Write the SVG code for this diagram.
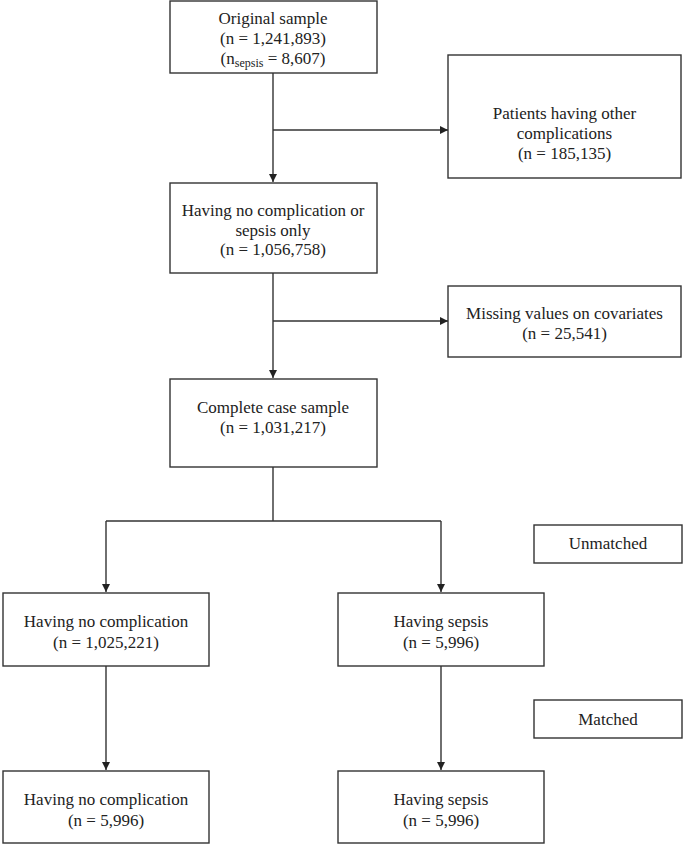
<svg xmlns="http://www.w3.org/2000/svg" width="685" height="849" viewBox="0 0 685 849">
<defs>
<marker id="ah" viewBox="0 0 10 10" refX="10" refY="5" markerWidth="8" markerHeight="8" markerUnits="userSpaceOnUse" orient="auto"><path d="M0,0 L10,5 L0,10 Z" fill="#222"/></marker>
<style>
.box{fill:#fff;stroke:#333;stroke-width:1.4}
.t{font-family:"Liberation Serif","Times New Roman",serif;font-size:17px;fill:#222;text-anchor:middle}
.c{fill:none;stroke:#333;stroke-width:1.4}
</style>
</defs>
<rect width="685" height="849" fill="#fff"/>
<g id="connectors">
<line class="c" x1="273" y1="73" x2="273" y2="182" marker-end="url(#ah)"/>
<line class="c" x1="273" y1="130" x2="448" y2="130" marker-end="url(#ah)"/>
<line class="c" x1="273" y1="273" x2="273" y2="378" marker-end="url(#ah)"/>
<line class="c" x1="273" y1="321" x2="448" y2="321" marker-end="url(#ah)"/>
<polyline class="c" points="273,467 273,521"/>
<polyline class="c" points="106,521 441,521"/>
<line class="c" x1="106" y1="521" x2="106" y2="592" marker-end="url(#ah)"/>
<line class="c" x1="441" y1="521" x2="441" y2="592" marker-end="url(#ah)"/>
<line class="c" x1="106" y1="666" x2="106" y2="770" marker-end="url(#ah)"/>
<line class="c" x1="441" y1="666" x2="441" y2="770" marker-end="url(#ah)"/>
</g>
<g id="n1">
<rect class="box" x="170" y="1" width="207" height="72"/>
<text class="t" x="273" y="24">Original sample</text>
<text class="t" x="273" y="44">(n = 1,241,893)</text>
<text class="t" x="273" y="64">(n<tspan font-size="12" dy="3">sepsis</tspan><tspan dy="-3"> = 8,607)</tspan></text>
</g>
<g id="n2">
<rect class="box" x="448" y="55" width="233" height="123"/>
<text class="t" x="564.5" y="119">Patients having other</text>
<text class="t" x="564.5" y="139">complications</text>
<text class="t" x="564.5" y="159">(n = 185,135)</text>
</g>
<g id="n3">
<rect class="box" x="170" y="183" width="207" height="90"/>
<text class="t" x="273" y="216">Having no complication or</text>
<text class="t" x="273" y="236">sepsis only</text>
<text class="t" x="273" y="255">(n = 1,056,758)</text>
</g>
<g id="n4">
<rect class="box" x="448" y="286" width="233" height="71"/>
<text class="t" x="564.5" y="319">Missing values on covariates</text>
<text class="t" x="564.5" y="339">(n = 25,541)</text>
</g>
<g id="n5">
<rect class="box" x="170" y="379" width="207" height="88"/>
<text class="t" x="273" y="413">Complete case sample</text>
<text class="t" x="273" y="433">(n = 1,031,217)</text>
</g>
<g id="n6">
<rect class="box" x="534" y="525" width="148" height="38"/>
<text class="t" x="608" y="549">Unmatched</text>
</g>
<g id="n7">
<rect class="box" x="3" y="593" width="206" height="73"/>
<text class="t" x="106" y="627">Having no complication</text>
<text class="t" x="106" y="648">(n = 1,025,221)</text>
</g>
<g id="n8">
<rect class="box" x="338" y="593" width="206" height="73"/>
<text class="t" x="441" y="627">Having sepsis</text>
<text class="t" x="441" y="648">(n = 5,996)</text>
</g>
<g id="n9">
<rect class="box" x="534" y="700" width="148" height="38"/>
<text class="t" x="608" y="725">Matched</text>
</g>
<g id="n10">
<rect class="box" x="3" y="771" width="206" height="72"/>
<text class="t" x="106" y="805">Having no complication</text>
<text class="t" x="106" y="826">(n = 5,996)</text>
</g>
<g id="n11">
<rect class="box" x="338" y="771" width="206" height="72"/>
<text class="t" x="441" y="805">Having sepsis</text>
<text class="t" x="441" y="826">(n = 5,996)</text>
</g>
</svg>
